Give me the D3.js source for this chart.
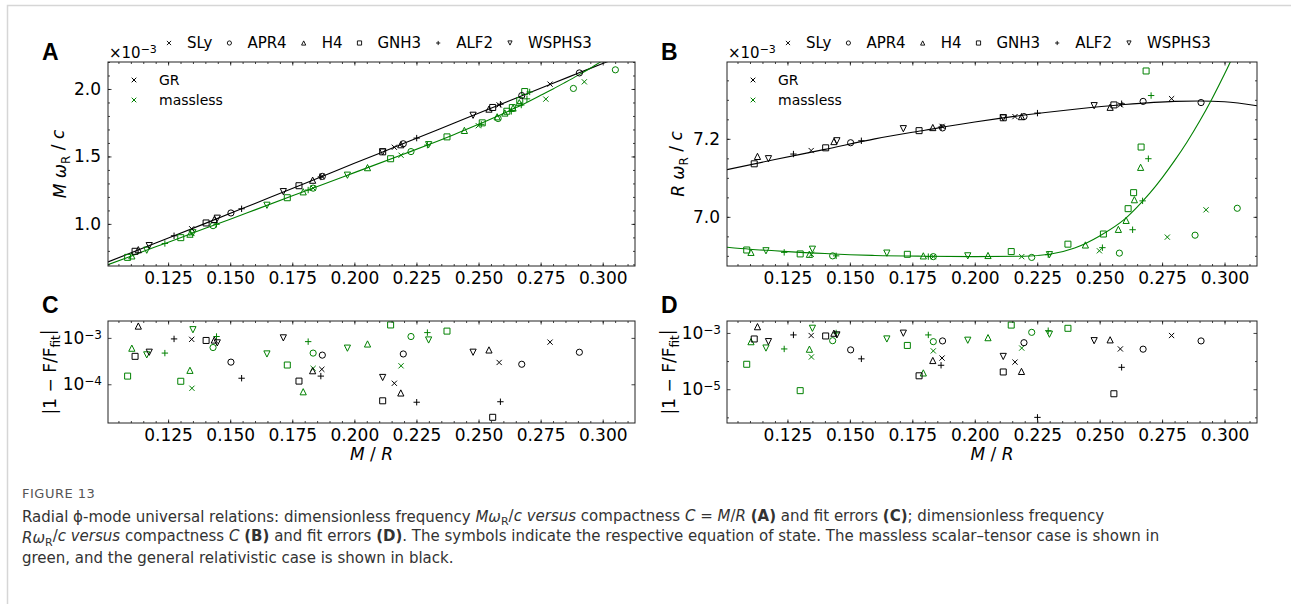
<!DOCTYPE html>
<html>
<head>
<meta charset="utf-8">
<script src="https://cdn.jsdelivr.net/npm/d3@7"></script>
<style>
  body { margin: 0; background: #fff; }
  text { font-family: "DejaVu Sans", sans-serif; }
</style>
</head>
<body>
<svg id="fig" width="1291" height="604"></svg>
<script>
var eosNames = ["SLy", "APR4", "H4", "GNH3", "ALF2", "WSPHS3"];
var eosShapes = ["x", "o", "^", "s", "+", "v"];

// [eos index, C = M/R, M wR/c (x1e-3), R wR/c (x1e-3), fit error A, fit error B]
var grPoints = [
  [0, 0.1345, 0.964, 7.170, 9.3e-4, 8.1e-4],
  [0, 0.1869, 1.352, 7.232, 2.1e-4, 1.28e-4],
  [0, 0.2161, 1.568, 7.257, 1.05e-4, 9.2e-5],
  [0, 0.2583, 1.882, 7.287, 2.95e-4, 2.7e-4],
  [0, 0.2788, 2.036, 7.303, 8.1e-4, 8.1e-4],
  [1, 0.1503, 1.081, 7.190, 3.0e-4, 2.5e-4],
  [1, 0.1871, 1.352, 7.228, 4.25e-4, 5.2e-4],
  [1, 0.2197, 1.594, 7.257, 4.5e-4, 4.5e-4],
  [1, 0.2674, 1.951, 7.296, 2.7e-4, 2.65e-4],
  [1, 0.2906, 2.119, 7.293, 4.9e-4, 5.2e-4],
  [2, 0.1130, 0.809, 7.155, 1.8e-3, 1.67e-3],
  [2, 0.1436, 1.033, 7.193, 9.0e-4, 9.8e-4],
  [2, 0.1832, 1.324, 7.229, 1.96e-4, 1.05e-4],
  [2, 0.2187, 1.587, 7.257, 6.5e-5, 4.3e-5],
  [2, 0.2542, 1.851, 7.281, 5.5e-4, 5.7e-4],
  [3, 0.1117, 0.797, 7.136, 4.0e-4, 6.1e-4],
  [3, 0.1403, 1.007, 7.177, 8.8e-4, 7.8e-4],
  [3, 0.1777, 1.283, 7.221, 1.17e-4, 3.0e-5],
  [3, 0.2114, 1.534, 7.254, 4.4e-5, 4.1e-5],
  [3, 0.2557, 1.863, 7.287, 1.94e-5, 6.9e-6],
  [4, 0.1274, 0.912, 7.161, 9.5e-4, 8.5e-4],
  [4, 0.1546, 1.112, 7.195, 1.35e-4, 1.2e-4],
  [4, 0.1865, 1.348, 7.230, 1.5e-4, 7.1e-5],
  [4, 0.2251, 1.636, 7.266, 4.1e-5, 1.0e-6],
  [4, 0.2588, 1.887, 7.290, 4.2e-5, 6.0e-5],
  [5, 0.1174, 0.839, 7.149, 4.9e-4, 4.9e-4],
  [5, 0.1448, 1.042, 7.195, 7.8e-4, 8.5e-4],
  [5, 0.1714, 1.239, 7.226, 1.0e-3, 9.8e-4],
  [5, 0.2114, 1.534, 7.254, 1.4e-4, 1.46e-4],
  [5, 0.2478, 1.805, 7.285, 4.9e-4, 5.3e-4]
];

var masslessPoints = [
  [0, 0.1346, 0.929, 6.904, 8.2e-5, 1.4e-4],
  [0, 0.1834, 1.265, 6.898, 2.2e-4, 2.3e-4],
  [0, 0.2188, 1.509, 6.898, 2.5e-4, 2.9e-4],
  [0, 0.2499, 1.728, 6.913, null, null],
  [0, 0.2771, 1.925, 6.948, null, null],
  [0, 0.2926, 2.053, 7.018, null, null],
  [1, 0.1431, 0.987, 6.900, 6.2e-4, 5.3e-4],
  [1, 0.1834, 1.265, 6.898, 4.7e-4, 4.9e-4],
  [1, 0.2228, 1.536, 6.896, 1.07e-3, 1.05e-3],
  [1, 0.2579, 1.781, 6.907, null, null],
  [1, 0.2882, 2.004, 6.953, null, null],
  [1, 0.3051, 2.142, 7.022, null, null],
  [2, 0.1104, 0.763, 6.909, 6.0e-4, 4.9e-4],
  [2, 0.1338, 0.924, 6.904, 2.0e-4, 2.65e-4],
  [2, 0.1794, 1.238, 6.900, 6.9e-5, 3.8e-5],
  [2, 0.2053, 1.417, 6.901, 7.4e-4, 6.8e-4],
  [2, 0.2443, 1.693, 6.928, null, null],
  [2, 0.2575, 1.794, 6.968, null, null],
  [2, 0.2606, 1.822, 6.991, null, null],
  [2, 0.2639, 1.859, 7.044, null, null],
  [2, 0.2664, 1.899, 7.127, null, null],
  [3, 0.1087, 0.752, 6.915, 1.5e-4, 7.7e-5],
  [3, 0.1301, 0.898, 6.905, 1.16e-4, 8.9e-6],
  [3, 0.1730, 1.194, 6.904, 2.6e-4, 3.6e-4],
  [3, 0.2146, 1.483, 6.911, 1.9e-3, 1.9e-3],
  [3, 0.2373, 1.645, 6.930, 1.4e-3, 1.46e-3],
  [3, 0.2515, 1.749, 6.956, null, null],
  [3, 0.2614, 1.835, 7.021, null, null],
  [3, 0.2636, 1.862, 7.062, null, null],
  [3, 0.2666, 1.914, 7.179, null, null],
  [3, 0.2686, 1.981, 7.374, null, null],
  [4, 0.1237, 0.855, 6.909, 4.7e-4, 2.7e-4],
  [4, 0.1445, 0.997, 6.900, 1.07e-3, 1.0e-3],
  [4, 0.1814, 1.251, 6.898, 8.3e-4, 8.5e-4],
  [4, 0.2294, 1.584, 6.903, 1.3e-3, 1.2e-3],
  [4, 0.2511, 1.738, 6.921, null, null],
  [4, 0.2632, 1.834, 6.967, null, null],
  [4, 0.2672, 1.881, 7.041, null, null],
  [4, 0.2695, 1.927, 7.149, null, null],
  [4, 0.2706, 1.978, 7.311, null, null],
  [5, 0.1164, 0.805, 6.913, 4.3e-4, 2.9e-4],
  [5, 0.1350, 0.934, 6.917, 1.5e-3, 1.46e-3],
  [5, 0.1648, 1.138, 6.907, 4.5e-4, 6.1e-4],
  [5, 0.1972, 1.361, 6.900, 6.0e-4, 5.5e-4],
  [5, 0.2299, 1.587, 6.903, 9.0e-4, 9.0e-4]
];

// fitted curves
var grFitC  = [0.1008, 0.12, 0.14, 0.16, 0.18, 0.20, 0.22, 0.24, 0.26, 0.28, 0.29, 0.30, 0.313];
var grFitMw = [0.718, 0.858, 1.004, 1.152, 1.300, 1.449, 1.597, 1.746, 1.895, 2.043, 2.116, 2.189, 2.280];
var grFitRw = [7.121, 7.147, 7.173, 7.200, 7.222, 7.243, 7.261, 7.276, 7.288, 7.296, 7.297, 7.295, 7.285];

var mlFitC  = [0.1008, 0.11, 0.12, 0.13, 0.14, 0.15, 0.16, 0.18, 0.20, 0.22, 0.23, 0.24, 0.25, 0.26,
               0.265, 0.27, 0.275, 0.28, 0.285, 0.29, 0.295, 0.30, 0.305];
var mlFitMw = [0.698, 0.761, 0.830, 0.898, 0.967, 1.035, 1.104, 1.242, 1.380, 1.518, 1.588, 1.661, 1.738, 1.818,
               1.862, 1.906, 1.953, 2.000, 2.050, 2.101, 2.154, 2.210, 2.267];
var mlFitRw = [6.922, 6.917, 6.913, 6.909, 6.906, 6.903, 6.901, 6.899, 6.898, 6.899, 6.904, 6.920, 6.951, 6.994,
               7.025, 7.060, 7.100, 7.144, 7.192, 7.245, 7.303, 7.366, 7.434];

var xTicks = [0.125, 0.150, 0.175, 0.200, 0.225, 0.250, 0.275, 0.300];
var xDomain = [0.1008, 0.3130];

var black = "#000", green = "#008000";

var svg = d3.select("#fig");
svg.append("rect").attr("width", 1291).attr("height", 604).attr("fill", "#fff");
svg.append("path")
  .attr("d", "M7.5,604V5.5H1291")
  .attr("fill", "none")
  .attr("stroke", "#d6d6d6")
  .attr("stroke-width", 1.5);

function shapePath(shape, s) {
  switch (shape) {
    case "x": return "M" + (-s) + "," + (-s) + "L" + s + "," + s + "M" + (-s) + "," + s + "L" + s + "," + (-s);
    case "o": return "M" + s + ",0A" + s + "," + s + " 0 1,1 " + (-s) + ",0A" + s + "," + s + " 0 1,1 " + s + ",0Z";
    case "^": return "M0," + (-s) + "L" + s + "," + s + "L" + (-s) + "," + s + "Z";
    case "v": return "M0," + s + "L" + s + "," + (-s) + "L" + (-s) + "," + (-s) + "Z";
    case "s": return "M" + (-s) + "," + (-s) + "H" + s + "V" + s + "H" + (-s) + "Z";
    case "+": return "M" + (-s) + ",0H" + s + "M0," + (-s) + "V" + s;
  }
}
var markerSize = {x: 2.6, o: 3.1, "^": 3.1, v: 3.1, s: 3.0, "+": 3.2};

function panel(p) {
  var g = svg.append("g").attr("transform", "translate(" + p.left + "," + p.top + ")");
  var x = d3.scaleLinear().domain(xDomain).range([0, p.w]);
  var y = (p.log ? d3.scaleLog() : d3.scaleLinear()).domain(p.dom).range([p.h, 0]);

  var clipId = "clip" + p.id;
  g.append("clipPath").attr("id", clipId)
    .append("rect").attr("width", p.w).attr("height", p.h);
  var inner = g.append("g").attr("clip-path", "url(#" + clipId + ")");

  // fitted curves
  if (p.fit) {
    var line = d3.line().curve(d3.curveMonotoneX)
      .x(function(d) { return x(d[0]); })
      .y(function(d) { return y(d[1]); });
    p.fit.forEach(function(f) {
      inner.append("path")
        .datum(d3.zip(f.c, f.v))
        .attr("d", line)
        .attr("fill", "none")
        .attr("stroke", f.color)
        .attr("stroke-width", 1.1);
    });
  }

  // markers
  [[masslessPoints, green], [grPoints, black]].forEach(function(set) {
    var rows = set[0].filter(function(d) { return d[p.col] != null; });
    inner.selectAll(null)
      .data(rows).enter()
      .append("path")
        .attr("transform", function(d) { return "translate(" + x(d[1]) + "," + y(d[p.col]) + ")"; })
        .attr("d", function(d) { var s = eosShapes[d[0]]; return shapePath(s, markerSize[s]); })
        .attr("fill", "none")
        .attr("stroke", set[1])
        .attr("stroke-width", 1);
  });

  // ticks (inward, all four sides)
  var xMinor = d3.range(21, 63).map(function(i) { return i / 200; })
    .filter(function(v) { return v > xDomain[0] && v < xDomain[1]; });

  g.append("g").attr("transform", "translate(0," + p.h + ")")
    .call(d3.axisBottom(x).tickValues(xMinor).tickSize(-2).tickFormat(""));
  g.append("g").attr("transform", "translate(0," + p.h + ")")
    .call(d3.axisBottom(x).tickValues(xTicks).tickSize(-3.5).tickPadding(6).tickFormat(d3.format(".3f")))
    .selectAll("text").style("font-size", "17px");
  g.append("g").call(d3.axisTop(x).tickValues(xMinor).tickSize(-2).tickFormat(""));
  g.append("g").call(d3.axisTop(x).tickValues(xTicks).tickSize(-3.5).tickFormat(""));

  g.append("g").call(d3.axisLeft(y).tickValues(p.minor).tickSize(-2).tickFormat(""));
  g.append("g").attr("transform", "translate(" + p.w + ",0)")
    .call(d3.axisRight(y).tickValues(p.minor).tickSize(-2).tickFormat(""));
  var yl = g.append("g").call(d3.axisLeft(y).tickValues(p.major).tickSize(-3.5).tickPadding(7)
    .tickFormat(p.log ? function() { return ""; } : d3.format(".1f")));
  g.append("g").attr("transform", "translate(" + p.w + ",0)")
    .call(d3.axisRight(y).tickValues(p.major).tickSize(-3.5).tickFormat(""));
  yl.selectAll("text").style("font-size", "17px");

  if (p.log) {
    p.major.forEach(function(v) {
      var t = g.append("text")
        .attr("x", -6).attr("y", y(v)).attr("dy", "0.36em")
        .attr("text-anchor", "end").style("font-size", "17px");
      t.append("tspan").text("10");
      t.append("tspan").attr("dy", "-0.45em").style("font-size", "12px")
        .text("\u2212" + Math.round(-Math.log10(v)));
    });
  }

  g.selectAll(".domain").remove();
  g.selectAll(".tick line").attr("stroke", "#111").attr("stroke-width", 0.8);
  g.append("rect")
    .attr("width", p.w).attr("height", p.h)
    .attr("fill", "none").attr("stroke", "#222").attr("stroke-width", 1);

  // y label
  var lab = g.append("text")
    .attr("transform", "translate(" + p.ylabX + "," + (p.h / 2) + ") rotate(-90)")
    .attr("text-anchor", "middle").attr("dy", "0.35em")
    .style("font-size", "17px");
  p.ylabel(lab);

  // panel letter
  svg.append("text")
    .attr("x", p.letterX).attr("y", p.letterY)
    .style("font-family", "'Liberation Sans', Arial, sans-serif")
    .style("font-weight", "bold").style("font-size", "23px")
    .text(p.id);

  return g;
}

function omegaLabel(first) {
  return function(t) {
    t.append("tspan").style("font-style", "italic").text(first + " \u03c9");
    t.append("tspan").attr("dy", "0.3em").style("font-size", "12px").text("R");
    t.append("tspan").attr("dy", "-0.3em").text(" / ");
    t.append("tspan").style("font-style", "italic").text("c");
  };
}
function errLabel(t) {
  t.append("tspan").text("|1 \u2212 F/F");
  t.append("tspan").attr("dy", "0.3em").style("font-size", "12px").text("fit");
  t.append("tspan").attr("dy", "-0.3em").text("|");
}

var gA = panel({id: "A", left: 108, top: 62, w: 527, h: 204, col: 2,
  dom: [0.688, 2.2], major: [1.0, 1.5, 2.0],
  minor: d3.range(7, 23).map(function(i) { return i / 10; }),
  fit: [{c: grFitC, v: grFitMw, color: black}, {c: mlFitC, v: mlFitMw, color: green}],
  ylabX: -48, ylabel: omegaLabel("M"), letterX: 42, letterY: 60});
var gB = panel({id: "B", left: 727, top: 62, w: 530, h: 204, col: 3,
  dom: [6.874, 7.397], major: [7.0, 7.2],
  minor: d3.range(138, 148).map(function(i) { return i / 20; }),
  fit: [{c: grFitC, v: grFitRw, color: black}, {c: mlFitC, v: mlFitRw, color: green}],
  ylabX: -49, ylabel: omegaLabel("R"), letterX: 661, letterY: 60});
var gC = panel({id: "C", left: 108, top: 321, w: 527, h: 102, col: 4, log: true,
  dom: [1.462e-5, 2.312e-3], major: [1e-3, 1e-4], minor: [],
  ylabX: -58, ylabel: errLabel, letterX: 42, letterY: 313});
var gD = panel({id: "D", left: 727, top: 321, w: 530, h: 102, col: 5, log: true,
  dom: [6.31e-7, 2.655e-3], major: [1e-3, 1e-5], minor: [1e-4, 1e-6],
  ylabX: -58, ylabel: errLabel, letterX: 661, letterY: 313});

// x labels for the lower panels
[[gC, 527], [gD, 530]].forEach(function(a) {
  var t = a[0].append("text")
    .attr("x", a[1] / 2).attr("y", 139)
    .attr("text-anchor", "middle").style("font-size", "17px");
  t.append("tspan").style("font-style", "italic").text("M");
  t.append("tspan").text(" / ");
  t.append("tspan").style("font-style", "italic").text("R");
});

// offset text, EOS legend and theory legend on the upper panels
[gA, gB].forEach(function(g) {
  var off = g.append("text").attr("x", 1).attr("y", -4).style("font-size", "15px");
  off.append("tspan").text("\u00d710");
  off.append("tspan").attr("dy", "-0.5em").style("font-size", "11px").text("\u22123");

  var cur = 61;
  eosNames.forEach(function(name, i) {
    g.append("path")
      .attr("transform", "translate(" + cur + ",-19)")
      .attr("d", shapePath(eosShapes[i], 2.1))
      .attr("fill", "none").attr("stroke", black).attr("stroke-width", 0.9);
    var t = g.append("text").attr("x", cur + 18).attr("y", -14)
      .style("font-size", "15px").text(name);
    cur = cur + 18 + t.node().getComputedTextLength() + 17;
  });

  [["GR", black], ["massless", green]].forEach(function(e, i) {
    g.append("path")
      .attr("transform", "translate(26," + (18 + 20 * i) + ")")
      .attr("d", shapePath("x", 2.3))
      .attr("fill", "none").attr("stroke", e[1]).attr("stroke-width", 1);
    g.append("text").attr("x", 51).attr("y", 18 + 20 * i).attr("dy", "0.36em")
      .style("font-size", "14px").text(e[0]);
  });
});

// caption
var cap = svg.append("g").style("font-family", "'Noto Sans', sans-serif").attr("fill", "#333");
cap.append("text").attr("x", 22).attr("y", 498)
  .style("font-size", "13px").style("letter-spacing", "0.5px").attr("fill", "#555").text("FIGURE 13");

var capLines = [
  [["Radial \u03d5-mode universal relations: dimensionless frequency ", ""], ["M\u03c9", "i"], ["R", "sub"], ["/", ""], ["c", "i"],
   [" ", ""], ["versus", "i"], [" compactness ", ""], ["C", "i"], [" = ", ""], ["M", "i"], ["/", ""], ["R", "i"], [" ", ""],
   ["(A)", "b"], [" and fit errors ", ""], ["(C)", "b"], ["; dimensionless frequency", ""]],
  [["R\u03c9", "i"], ["R", "sub"], ["/", ""], ["c", "i"], [" ", ""], ["versus", "i"], [" compactness ", ""], ["C", "i"], [" ", ""],
   ["(B)", "b"], [" and fit errors ", ""], ["(D)", "b"],
   [". The symbols indicate the respective equation of state. The massless scalar\u2013tensor case is shown in", ""]],
  [["green, and the general relativistic case is shown in black.", ""]]
];
capLines.forEach(function(parts, i) {
  var t = cap.append("text").attr("x", 22).attr("y", 522 + 20.5 * i).style("font-size", "15px");
  parts.forEach(function(p, j) {
    var s = t.append("tspan").text(p[0]);
    if (p[1] === "i") s.style("font-style", "italic");
    if (p[1] === "b") s.style("font-weight", "bold");
    if (p[1] === "sub") s.attr("dy", "0.3em").style("font-size", "11px");
    if (j > 0 && parts[j - 1][1] === "sub") s.attr("dy", "-0.3em");
  });
});
</script>
</body>
</html>
